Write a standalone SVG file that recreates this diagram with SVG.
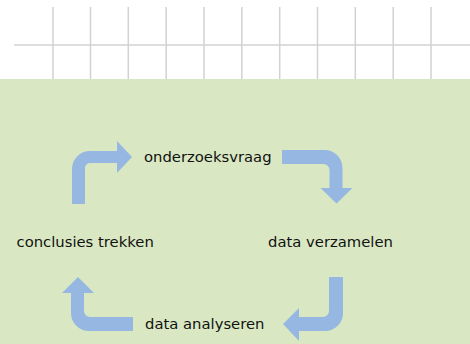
<svg xmlns="http://www.w3.org/2000/svg" width="470" height="344" viewBox="0 0 470 344">
<style>
.grid{stroke:#d2d2d2;stroke-width:1.5;fill:none}
.arrow{fill:#95b7e1}
.lbl{font-family:"DejaVu Sans",Verdana,sans-serif;font-size:14.8px;fill:#111}
</style>
<rect x="0" y="0" width="470" height="344" fill="#ffffff"/>
<g id="grid">
<line class="grid" x1="14" y1="45" x2="470" y2="45"/>
<line class="grid" x1="53" y1="7" x2="53" y2="79"/>
<line class="grid" x1="90.5" y1="7" x2="90.5" y2="79"/>
<line class="grid" x1="128.3" y1="7" x2="128.3" y2="79"/>
<line class="grid" x1="166.2" y1="7" x2="166.2" y2="79"/>
<line class="grid" x1="204" y1="7" x2="204" y2="79"/>
<line class="grid" x1="241.8" y1="7" x2="241.8" y2="79"/>
<line class="grid" x1="279.7" y1="7" x2="279.7" y2="79"/>
<line class="grid" x1="317.5" y1="7" x2="317.5" y2="79"/>
<line class="grid" x1="355.3" y1="7" x2="355.3" y2="79"/>
<line class="grid" x1="393.2" y1="7" x2="393.2" y2="79"/>
<line class="grid" x1="431" y1="7" x2="431" y2="79"/>
</g>
<rect x="0" y="79" width="470" height="265" fill="#d9e8c3"/>
<g id="connectors">
<path class="arrow" d="M72,204 L72,169 A18,18 0 0 1 90,151 L117,151 L117,141 L132,157 L117,173 L117,163 L90,163 A5,5 0 0 0 85,168 L85,204 Z"/>
<path class="arrow" d="M282,150 L324.5,150 A18,18 0 0 1 342.5,168 L342.5,188 L352.5,188 L336.5,203.5 L320.5,188 L329.5,188 L329.5,170 A6,6 0 0 0 323.5,164 L282,164 Z"/>
<path class="arrow" d="M329,277 L343,277 L343,313 A18,18 0 0 1 325,331 L299,331 L299,341 L283,324 L299,308 L299,317 L323,317 A6,6 0 0 0 329,311 Z"/>
<path class="arrow" d="M133,317 L133,331 L89,331 A18,18 0 0 1 71,313 L71,293 L62,293 L78,277 L94,293 L84,293 L84,311 A6,6 0 0 0 90,317 Z"/>
</g>
<g id="node-onderzoeksvraag"><text class="lbl" x="144" y="162">onderzoeksvraag</text></g>
<g id="node-data-verzamelen"><text class="lbl" x="268" y="247">data verzamelen</text></g>
<g id="node-data-analyseren"><text class="lbl" x="145" y="329">data analyseren</text></g>
<g id="node-conclusies-trekken"><text class="lbl" x="16.5" y="247">conclusies trekken</text></g>
</svg>
